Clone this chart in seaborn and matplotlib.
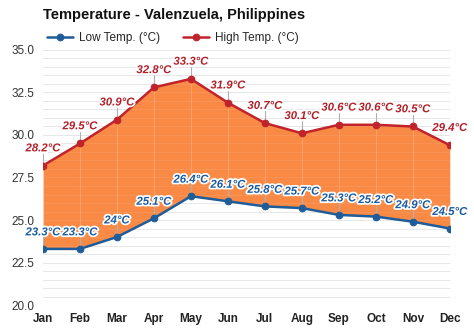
import matplotlib
matplotlib.use("Agg")
import matplotlib.pyplot as plt
import matplotlib.patheffects as pe
import seaborn as sns
import pandas as pd
import numpy as np

months = ["Jan", "Feb", "Mar", "Apr", "May", "Jun", "Jul", "Aug", "Sep", "Oct", "Nov", "Dec"]
low_temp = [23.3, 23.3, 24.0, 25.1, 26.4, 26.1, 25.8, 25.7, 25.3, 25.2, 24.9, 24.5]
high_temp = [28.2, 29.5, 30.9, 32.8, 33.3, 31.9, 30.7, 30.1, 30.6, 30.6, 30.5, 29.4]
y_ticks = [20.0, 22.5, 25.0, 27.5, 30.0, 32.5, 35.0]

low_color = "#1f5c99"
high_color = "#c0232b"
fill_color = "#f98a45"

sns.set_theme(style="white")
plt.rcParams["font.family"] = ["Liberation Sans", "DejaVu Sans"]

df = pd.DataFrame({"month": months, "idx": np.arange(len(months)),
                   "low": low_temp, "high": high_temp})

fig = plt.figure(figsize=(4.74, 3.31), dpi=100)
ax = fig.add_axes([0.0907, 0.0785, 0.8583, 0.7705])

# light horizontal grid every 0.5 degree
for v in np.arange(20.0, 35.01, 0.5):
    ax.axhline(v, color="#e6e6e6", lw=0.7, zorder=0)

ax.fill_between(df["idx"], df["low"], df["high"], color=fill_color, zorder=1, lw=0)

# grid faintly showing through the band
for v in np.arange(20.0, 35.01, 0.5):
    ax.axhline(v, color="white", alpha=0.08, lw=0.7, zorder=1.2)

# range markers between low and high at each month
for i, (lo, hi) in enumerate(zip(low_temp, high_temp)):
    ax.plot([i, i], [lo, hi], color="#ffffff", alpha=0.18, lw=0.8, zorder=1.5)
    ax.plot([i, i], [hi, hi + 0.7], color="#b0b0b0", lw=0.8, zorder=1.5)
    ax.plot([i, i], [lo, lo + 0.7], color="#b0b0b0", lw=0.8, zorder=1.5)

sns.lineplot(data=df, x="idx", y="low", ax=ax, color=low_color, lw=1.8,
             marker="o", markersize=4.8, markeredgecolor=low_color,
             label="Low Temp. (°C)", zorder=3)
sns.lineplot(data=df, x="idx", y="high", ax=ax, color=high_color, lw=1.8,
             marker="o", markersize=4.8, markeredgecolor=high_color,
             label="High Temp. (°C)", zorder=3)

stroke = [pe.withStroke(linewidth=2.5, foreground="white")]

def fmt(v):
    return f"{v:g}°C"

for i, v in enumerate(high_temp):
    ax.text(i, v + 0.72, fmt(v), ha="center", va="bottom", fontsize=8.2,
            fontweight="bold", fontstyle="italic", color="#b3202a",
            path_effects=stroke, zorder=5)
for i, v in enumerate(low_temp):
    ax.text(i, v + 0.68, fmt(v), ha="center", va="bottom", fontsize=8.2,
            fontweight="bold", fontstyle="italic", color="#1a5aa0",
            path_effects=stroke, zorder=5)

ax.set_xlim(0, len(months) - 1)
ax.set_ylim(20.0, 35.0)
ax.set_xticks(df["idx"])
ax.set_xticklabels(months, fontsize=8.5, fontweight="bold", color="#222222")
ax.set_yticks(y_ticks)
ax.set_yticklabels([f"{t:.1f}" for t in y_ticks], fontsize=8.5, color="#333333")
ax.tick_params(axis="both", length=0, pad=6)
ax.set_xlabel("")
ax.set_ylabel("")
for s in ax.spines.values():
    s.set_visible(False)

ax.legend(loc="lower left", bbox_to_anchor=(-0.005, 1.0), ncol=2, frameon=False,
          fontsize=8.5, handlelength=2.2, columnspacing=2.0, borderaxespad=0.1,
          handletextpad=0.5)

fig.text(0.0907, 0.955, "Temperature - Valenzuela, Philippines", fontsize=10.5,
         fontweight="bold", ha="left", va="center", color="#111111")

fig.savefig("out.png", dpi=100)
